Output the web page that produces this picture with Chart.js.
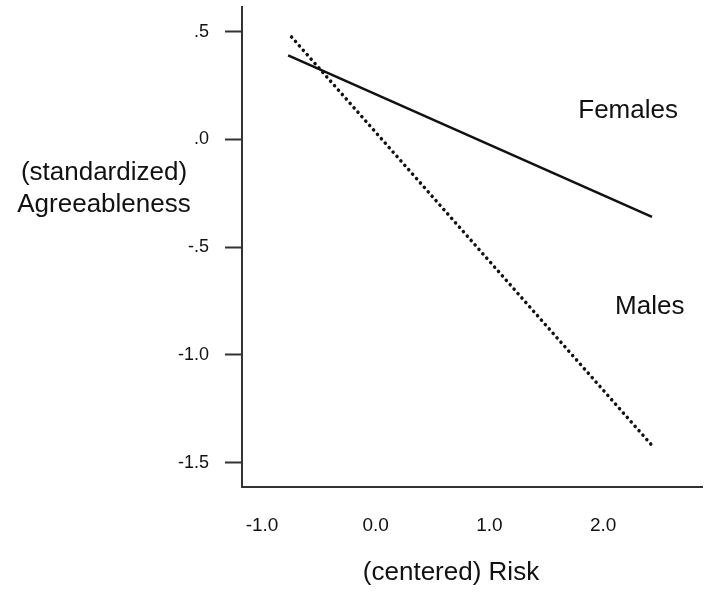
<!DOCTYPE html>
<html>
<head>
<meta charset="utf-8">
<script src="https://cdn.jsdelivr.net/npm/chart.js@4.4.0/dist/chart.umd.min.js"></script>
<style>
  body { margin: 0; background: #fff; }
</style>
</head>
<body>
<canvas id="chart" width="709" height="594"></canvas>
<script>
// simple slopes (two end points per group)
const femalesX = [-0.77, 2.43];
const femalesY = [0.39, -0.36];
const malesX = [-0.74, 2.43];
const malesY = [0.475, -1.42];

const xTicks = [-1, 0, 1, 2];
const xTickLabels = ['-1.0', '0.0', '1.0', '2.0'];
const yTicks = [-1.5, -1, -0.5, 0, 0.5];
const yTickLabels = ['-1.5', '-1.0', '-.5', '.0', '.5'];

// group names sit next to the lines, in data units
const groupNames = ['Females', 'Males'];
const groupNameX = [2.22, 2.41];
const groupNameY = [0.10, -0.81];

const xTitle = '(centered) Risk';
const yTitle = ['(standardized)', 'Agreeableness'];

const FONT = '"Liberation Sans", Arial, sans-serif';
const INK = '#111';

const textPlugin = {
    id: 'texts',
    afterDraw(chart) {
        const ctx = chart.ctx;
        const x = chart.scales.x;
        const y = chart.scales.y;
        const area = chart.chartArea;
        ctx.save();
        ctx.fillStyle = INK;
        ctx.font = '26px ' + FONT;
        ctx.textAlign = 'center';
        ctx.textBaseline = 'alphabetic';
        groupNames.forEach((name, i) => {
            ctx.fillText(name, x.getPixelForValue(groupNameX[i]), y.getPixelForValue(groupNameY[i]));
        });
        // horizontal y title, left of the axis
        ctx.fillText(yTitle[0], area.left - 138, area.top + 173);
        ctx.fillText(yTitle[1], area.left - 138, area.top + 204.5);
        // x title
        ctx.textBaseline = 'middle';
        ctx.fillText(xTitle, area.left + 209, area.bottom + 85.5);
        ctx.restore();
    }
};

const ctx = document.getElementById('chart').getContext('2d');
new Chart(ctx, {
    type: 'scatter',
    data: {
        datasets: [{
                label: groupNames[0],
                data: femalesX.map((v, i) => ({ x: v, y: femalesY[i] })),
                showLine: true,
                borderColor: INK,
                borderWidth: 2.5,
                pointRadius: 0,
                tension: 0
            },
            {
                label: groupNames[1],
                data: malesX.map((v, i) => ({ x: v, y: malesY[i] })),
                showLine: true,
                borderColor: INK,
                borderWidth: 3.5,
                borderDash: [0.1, 5.8],
                borderCapStyle: 'round',
                pointRadius: 0,
                tension: 0
            }
        ]
    },
    options: {
        responsive: false,
        animation: false,
        layout: { padding: { top: 7, right: 7, left: 0, bottom: 0 } },
        plugins: {
            legend: { display: false },
            tooltip: { enabled: false }
        },
        scales: {
            x: {
                type: 'linear',
                min: -1.176,
                max: 2.87,
                afterBuildTicks: s => { s.ticks = xTicks.map(v => ({ value: v })); },
                afterFit: s => {
                    s.height = 107;
                    s.paddingLeft = 0;
                    s.paddingRight = 0;
                },
                ticks: {
                    callback: v => xTickLabels[xTicks.indexOf(v)],
                    font: { family: FONT, size: 19 },
                    color: INK,
                    padding: 27,
                    maxRotation: 0,
                    autoSkip: false
                },
                grid: { drawOnChartArea: false, drawTicks: false },
                border: { color: '#333', width: 2 }
            },
            y: {
                type: 'linear',
                min: -1.613,
                max: 0.614,
                afterBuildTicks: s => { s.ticks = yTicks.map(v => ({ value: v })); },
                afterFit: s => {
                    s.width = 242;
                    s.paddingTop = 0;
                    s.paddingBottom = 0;
                },
                ticks: {
                    callback: v => yTickLabels[yTicks.indexOf(v)],
                    font: { family: FONT, size: 18 },
                    color: INK,
                    padding: 16,
                    autoSkip: false
                },
                grid: {
                    drawOnChartArea: false,
                    drawTicks: true,
                    tickLength: 17,
                    tickWidth: 2,
                    color: '#333'
                },
                border: { color: '#333', width: 2 }
            }
        }
    },
    plugins: [textPlugin]
});
</script>
</body>
</html>
